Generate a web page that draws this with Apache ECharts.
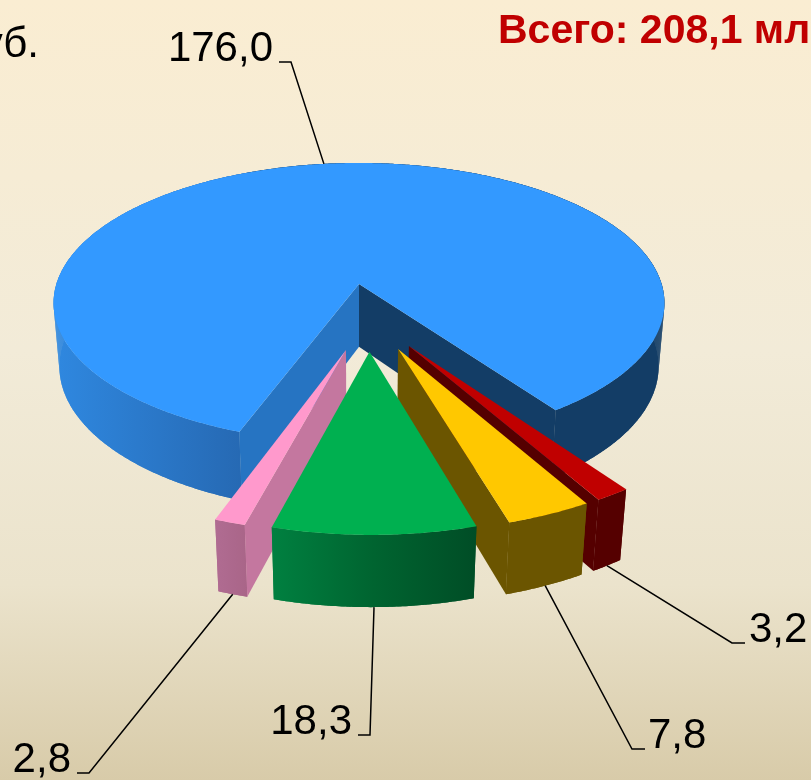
<!DOCTYPE html>
<html><head><meta charset="utf-8">
<style>html,body{margin:0;padding:0;overflow:hidden}#c{width:811px;height:780px}</style>
<script src="https://cdn.jsdelivr.net/npm/echarts@6/dist/echarts.min.js"></script>
</head><body><div id="c"></div>
<script>
// Data: clockwise from the first slice
const sliceLabels = ['176,0', '3,2', '7,8', '18,3', '2,8'];
const sliceValues = [176.0, 3.2, 7.8, 18.3, 2.8];
const titleTotal = 'Всего: 208,1 млрд. руб.';
const unitText = 'млрд. руб.';

// Styling
const topColors = ['#3399FF', '#C00000', '#FFC800', '#00B050', '#FF99CC'];
const wallStops = [
  [[0, '#2F88E0'], [0.31, '#2669B3'], [0.32, '#133D66'], [1, '#133D66']],
  [[0, '#550000'], [1, '#550000']],
  [[0, '#6B5500'], [1, '#6B5500']],
  [[0, '#008040'], [0.5, '#006430'], [1, '#004D26']],
  [[0, '#B06C92'], [1, '#A96588']]
];
const startFace = ['#2674C2', '#550000', '#6B5500', '#006430', '#C4779F'];
const endFace = ['#133D66', '#550000', '#6B5500', '#006430', '#C4779F'];
const paintOrder = [0, 1, 2, 4, 3];

// Camera and layout of the 3-D pie
const cam = { cx: 359, cy: 284, A: 302.6, B: 137.5, H: 64, k: 0.136, m: 0.019 };
const startAngle = 110.2, explode = 0.232;
// Label layout: text position, leader elbow
const labelLayout = [
  { x: 273, y: 70, from: 279, elbow: 291, ey: 62, bottom: false },
  { left: 749, y: 651, from: 745, elbow: 732, ey: 643, bottom: true },
  { left: 648, y: 757, from: 645, elbow: 632, ey: 749, bottom: true },
  { x: 352, y: 743, from: 358, elbow: 370, ey: 735, bottom: true },
  { x: 71, y: 781, from: 77, elbow: 89, ey: 773, bottom: true }
];

const total = sliceValues.reduce((a, b) => a + b, 0);
const rad = d => d * Math.PI / 180;
const angles = [];
sliceValues.reduce((s, v) => { const e = s + v / total * 360; angles.push([s, e]); return e; }, startAngle);
const mid = angles.map(a => (a[0] + a[1]) / 2);
// The first slice's apex sits at the camera origin; the pie's real centre follows from the explode
const ox = -explode * Math.cos(rad(mid[0])), oy = -explode * Math.sin(rad(mid[0]));

function proj(x, y, z) {
  const w = 1 - cam.k * y + cam.m * z;
  return [cam.cx + cam.A * x / w, cam.cy + (cam.B * y + cam.H * z) / w];
}
function planePoint(i, r, t) {
  return [ox + explode * Math.cos(rad(mid[i])) + r * Math.cos(rad(t)),
          oy + explode * Math.sin(rad(mid[i])) + r * Math.sin(rad(t))];
}
function pt(i, r, t, z) { const p = planePoint(i, r, t); return proj(p[0], p[1], z); }
function arc(i, z) {
  const [a, b] = angles[i], n = Math.max(2, Math.ceil((b - a) * 2)), out = [];
  for (let j = 0; j <= n; j++) out.push(pt(i, 1, a + (b - a) * j / n, z));
  return out;
}
function area(q) {
  let s = 0;
  q.forEach((p, j) => { const r = q[(j + 1) % q.length]; s += p[0] * r[1] - r[0] * p[1]; });
  return s;
}
function poly(points, fill) {
  return { type: 'polygon', silent: true, shape: { points }, style: { fill, stroke: null } };
}
function renderSlice(params, api) {
  const i = api.value(0), [a, b] = angles[i];
  const topArc = arc(i, 0), botArc = arc(i, 1), children = [];
  const xs = topArc.concat(botArc).map(p => p[0]);
  const minX = Math.min.apply(null, xs), maxX = Math.max.apply(null, xs);
  const wallFill = new echarts.graphic.LinearGradient(minX, 0, maxX, 0,
    wallStops[i].map(s => ({ offset: s[0], color: s[1] })), true);
  // Outer wall: the band between the rims, plus a quad per arc step so the silhouette closes
  children.push(poly(topArc.concat(botArc.slice().reverse()), wallFill));
  for (let j = 0; j + 1 < topArc.length; j++) {
    children.push(poly([topArc[j], topArc[j + 1], botArc[j + 1], botArc[j]], wallFill));
  }
  const apexT = pt(i, 0, a, 0), apexB = pt(i, 0, a, 1);
  const fs = [apexT, pt(i, 1, a, 0), pt(i, 1, a, 1), apexB];
  const fe = [apexT, pt(i, 1, b, 0), pt(i, 1, b, 1), apexB];
  if (area(fs) < 0) children.push(poly(fs, startFace[i]));
  if (area(fe) > 0) children.push(poly(fe, endFace[i]));
  children.push(poly([apexT].concat(topArc), topColors[i]));
  return { type: 'group', children };
}
function renderLabel(params, api) {
  const i = api.value(0), L = labelLayout[i];
  const anchor = L.bottom ? pt(i, 1, mid[i], 1) : pt(i, 1, mid[i], 0);
  const hasLeft = L.left !== undefined;
  return { type: 'group', children: [
    { type: 'polyline', silent: true, shape: { points: [[L.from, L.ey], [L.elbow, L.ey], anchor] },
      style: { stroke: '#000', lineWidth: 1.5, fill: null } },
    { type: 'text', silent: true, style: { text: sliceLabels[i], x: hasLeft ? L.left : L.x, y: L.y,
      align: hasLeft ? 'left' : 'right', verticalAlign: 'bottom', fill: '#000',
      font: '42px "Liberation Sans"' } }
  ] };
}

const chart = echarts.init(document.getElementById('c'), null, { renderer: 'canvas', width: 811, height: 780 });
chart.setOption({
  animation: false,
  backgroundColor: new echarts.graphic.LinearGradient(0, 0, 0, 1, [
    { offset: 0, color: '#FAEDD2' }, { offset: 0.45, color: '#F2EBD8' },
    { offset: 0.75, color: '#EBE3CC' }, { offset: 1, color: '#D8CBA9' }
  ]),
  graphic: [
    { type: 'text', silent: true, style: { text: titleTotal, x: 498, y: 11, fill: '#C00000', font: 'bold 41px "Liberation Sans"' } },
    { type: 'text', silent: true, style: { text: unitText, x: 39, y: 66, align: 'right', verticalAlign: 'bottom', fill: '#000', font: '42px "Liberation Sans"' } }
  ],
  series: [
    { type: 'custom', coordinateSystem: 'none', silent: true, renderItem: renderSlice, z: 2,
      data: paintOrder.map(i => [i, sliceValues[i]]) },
    { type: 'custom', coordinateSystem: 'none', silent: true, renderItem: renderLabel, z: 3,
      data: sliceValues.map((v, i) => [i, v]) }
  ]
});
</script></body></html>
